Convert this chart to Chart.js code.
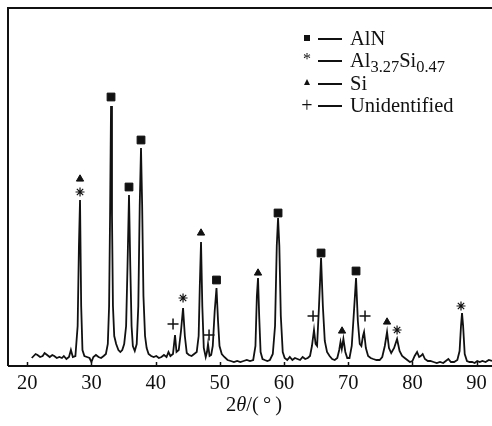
<!DOCTYPE html>
<html>
<head>
<meta charset="utf-8">
<title>XRD pattern</title>
<script src="https://cdn.jsdelivr.net/npm/chart.js@4.4.0/dist/chart.umd.min.js"></script>
<style>
  html, body { margin: 0; padding: 0; background: #fff; }
  #wrap { position: relative; width: 492px; height: 426px; }
  #xrdChart { position: absolute; left: 0; top: 0; }
  .legend { position: absolute; left: 0; top: 0; font-family: 'Liberation Serif', serif; font-size: 20.5px; color: #111; }
  .row { position: absolute; left: 300px; height: 22px; white-space: nowrap; }
  .row .mk { position: absolute; left: 0; width: 14px; text-align: center; }
  .row .dash { position: absolute; left: 18px; top: 11px; width: 24px; height: 1.6px; background: #111; }
  .row .lbl { position: absolute; left: 50px; top: 0; line-height: 22px; }
  .sq { position: absolute; left: 4px; top: 8px; width: 6px; height: 6px; background: #111; }
  .tri { position: absolute; left: 4px; top: 7px; width: 0; height: 0;
         border-left: 3.5px solid transparent; border-right: 3.5px solid transparent; border-bottom: 6px solid #111; }
  sub { font-size: 0.8em; vertical-align: -0.3em; line-height: 0; }
  #xTitle { position: absolute; top: 393px; left: 0; width: 508px; text-align: center;
            font-family: 'Liberation Serif', serif; font-size: 20.5px; color: #111; }
</style>
</head>
<body>
<div id="wrap">
  <canvas id="xrdChart" width="492" height="426"></canvas>
  <div class="legend">
    <div class="row" style="top:27px"><span class="sq"></span><span class="dash"></span><span class="lbl">AlN</span></div>
    <div class="row" style="top:49px"><span class="mk" style="top:-1px;font-size:16px;line-height:22px">*</span><span class="dash"></span><span class="lbl">Al<sub>3.27</sub>Si<sub>0.47</sub></span></div>
    <div class="row" style="top:72px"><span class="tri"></span><span class="dash"></span><span class="lbl">Si</span></div>
    <div class="row" style="top:94px"><span class="mk" style="top:0;line-height:22px;font-size:20px">+</span><span class="dash"></span><span class="lbl">Unidentified</span></div>
  </div>
  <div id="xTitle">2<i>θ</i>/(&#8201;°&#8201;)</div>
</div>

<script>
/* ============================================
   DATA
   ============================================ */

// 2-theta positions of the trace (degrees)
const twoTheta = [
  20.7, 21.0, 21.3, 21.6, 22.0, 22.4, 22.7, 23.1, 23.5, 23.9, 24.2, 24.6, 25.0, 25.4,
  25.7, 26.1, 26.5, 26.8, 27.1, 27.5, 27.85, 28.05, 28.22, 28.4, 28.6, 28.9, 29.3, 29.7,
  30.0, 30.3, 30.7, 31.1, 31.5, 31.9, 32.25, 32.55, 32.75, 32.9, 33.05, 33.2, 33.35, 33.55,
  33.85, 34.2, 34.5, 34.8, 35.1, 35.4, 35.62, 35.85, 36.05, 36.25, 36.45, 36.75, 37.05, 37.3,
  37.52, 37.72, 37.9, 38.1, 38.35, 38.6, 38.9, 39.3, 39.7, 40.1, 40.5, 40.9, 41.3, 41.7,
  42.0, 42.3, 42.7, 43.02, 43.25, 43.6, 43.95, 44.27, 44.55, 44.85, 45.2, 45.6, 46.0, 46.4,
  46.7, 46.88, 47.07, 47.27, 47.5, 47.8, 48.0, 48.16, 48.4, 48.65, 48.9, 49.2, 49.48, 49.72,
  49.95, 50.3, 50.7, 51.2, 51.7, 52.2, 52.7, 53.2, 53.7, 54.2, 54.7, 55.2, 55.55, 55.77,
  55.95, 56.13, 56.35, 56.65, 57.0, 57.4, 57.8, 58.25, 58.6, 58.87, 59.07, 59.27, 59.5, 59.8,
  60.1, 60.5, 60.9, 61.3, 61.7, 62.1, 62.5, 62.9, 63.3, 63.7, 64.05, 64.35, 64.67, 64.92,
  65.15, 65.45, 65.77, 66.05, 66.35, 66.7, 67.1, 67.5, 67.9, 68.3, 68.6, 68.8, 69.0, 69.25,
  69.55, 69.85, 70.2, 70.55, 70.85, 71.22, 71.5, 71.8, 72.05, 72.3, 72.47, 72.75, 73.1, 73.5,
  73.9, 74.4, 74.9, 75.3, 75.7, 76.05, 76.35, 76.7, 77.15, 77.61, 78.0, 78.4, 78.8, 79.2,
  79.6, 80.0, 80.35, 80.73, 81.05, 81.3, 81.6, 81.95, 82.4, 82.8, 83.3, 83.8, 84.3, 84.8,
  85.2, 85.6, 86.0, 86.5, 87.0, 87.35, 87.57, 87.73, 87.9, 88.15, 88.5, 88.9, 89.3, 89.7,
  90.1, 90.5, 90.9, 91.4, 91.9, 92.4
];

// intensity of the trace (arbitrary units, axis bottom = 0)
const intensity = [
  8, 10, 12, 11, 9, 10, 13, 11, 9, 11, 10, 8, 9, 8,
  10, 7, 9, 16, 9, 10, 40, 120, 166, 60, 16, 10, 9, 8,
  4, 9, 11, 9, 8, 10, 12, 22, 60, 150, 260, 150, 60, 30,
  22, 16, 14, 16, 22, 40, 100, 171, 100, 40, 20, 15, 22, 60,
  160, 218, 160, 70, 30, 18, 12, 10, 9, 10, 8, 9, 11, 9,
  14, 10, 12, 31, 14, 16, 35, 58, 30, 13, 11, 10, 12, 14,
  30, 80, 124, 60, 18, 9, 14, 22, 10, 11, 20, 55, 78, 45,
  20, 12, 9, 6, 5, 4, 5, 4, 5, 6, 5, 6, 20, 70,
  88, 50, 14, 7, 6, 5, 6, 12, 40, 120, 148, 120, 50, 14,
  8, 6, 9, 6, 8, 7, 6, 9, 7, 8, 10, 20, 36, 22,
  20, 60, 108, 60, 25, 14, 10, 7, 6, 8, 16, 24, 17, 27,
  14, 8, 8, 20, 50, 88, 45, 22, 20, 30, 34, 18, 10, 8,
  7, 6, 6, 9, 20, 34, 18, 13, 18, 27, 15, 10, 8, 6,
  4, 5, 10, 14, 9, 10, 12, 7, 5, 5, 4, 3, 4, 3,
  5, 7, 4, 4, 6, 15, 40, 53, 40, 12, 5, 4, 4, 3,
  5, 4, 5, 4, 6, 5
];

// phase markers: position and height above the peaks
const alnX = [33.05, 35.85, 37.72, 49.48, 59.07, 65.77, 71.22];
const alnY = [269, 179, 226, 86, 153, 113, 95];
const alSiX = [28.22, 44.27, 77.61, 87.57];
const alSiY = [174, 68, 36, 60];
const siX = [28.22, 47.07, 55.95, 69.04, 76.05];
const siY = [187, 133, 93, 35, 44];
const unknownX = [42.71, 48.32, 64.52, 72.62];
const unknownY = [42, 31, 50, 50];

// x axis
const xTicks = [20, 30, 40, 50, 60, 70, 80, 90];
const xMin = 17.0;
const xMax = 92.4;

/* ============================================
   HELPERS
   ============================================ */
function toPoints(xs, ys) {
  return xs.map((x, i) => ({ x: x, y: ys[i] }));
}

function markerSet(label, xs, ys, style, radius, width) {
  return {
    type: 'scatter',
    label: label,
    data: toPoints(xs, ys),
    pointStyle: style,
    pointRadius: radius,
    pointHoverRadius: radius,
    pointBorderWidth: width,
    pointBackgroundColor: '#111',
    pointBorderColor: '#111',
    showLine: false
  };
}

// frame + inward tick marks, like the original plot
const framePlugin = {
  id: 'frame',
  afterDraw(chart) {
    const ctx = chart.ctx;
    const a = chart.chartArea;
    const xs = chart.scales.x;
    ctx.save();
    ctx.strokeStyle = '#111';
    ctx.lineWidth = 2;
    ctx.beginPath();
    ctx.moveTo(a.left, a.bottom);
    ctx.lineTo(a.left, a.top);
    ctx.lineTo(a.right, a.top);
    ctx.moveTo(a.left, a.bottom);
    ctx.lineTo(a.right, a.bottom);
    ctx.stroke();
    ctx.lineWidth = 1.5;
    ctx.beginPath();
    xTicks.forEach(v => {
      const px = Math.round(xs.getPixelForValue(v)) + 0.5;
      ctx.moveTo(px, a.bottom);
      ctx.lineTo(px, a.bottom - 4);
    });
    ctx.stroke();
    ctx.restore();
  }
};

/* ============================================
   CHART
   ============================================ */
const ctx = document.getElementById('xrdChart').getContext('2d');

new Chart(ctx, {
  type: 'line',
  data: {
    datasets: [
      {
        label: 'pattern',
        data: toPoints(twoTheta, intensity),
        borderColor: '#111',
        borderWidth: 1.8,
        pointRadius: 0,
        tension: 0,
        fill: false
      },
      markerSet('AlN', alnX, alnY, 'rect', 5.5, 1),
      markerSet('Al3.27Si0.47', alSiX, alSiY, 'star', 4.5, 1.2),
      markerSet('Si', siX, siY, 'triangle', 4.2, 1),
      markerSet('Unidentified', unknownX, unknownY, 'cross', 5.5, 1.5)
    ]
  },
  options: {
    responsive: false,
    animation: false,
    devicePixelRatio: 1,
    layout: { autoPadding: false, padding: { left: 8, top: 8, right: 0, bottom: 0 } },
    plugins: {
      legend: { display: false },
      tooltip: { enabled: false }
    },
    scales: {
      x: {
        type: 'linear',
        min: xMin,
        max: xMax,
        grid: { display: false, drawTicks: false },
        border: { display: false },
        afterFit: function(scale) {
          scale.height = 60;
          // let the plot run to the right edge like the original
          scale.paddingLeft = 0;
          scale.paddingRight = 0;
        },
        afterBuildTicks: function(scale) {
          scale.ticks = xTicks.map(v => ({ value: v }));
        },
        ticks: {
          autoSkip: false,
          maxRotation: 0,
          padding: 5,
          color: '#111',
          font: { family: 'Liberation Serif', size: 20.5 }
        }
      },
      y: {
        display: false,
        min: 0,
        max: 358
      }
    }
  },
  plugins: [framePlugin]
});
</script>
</body>
</html>
